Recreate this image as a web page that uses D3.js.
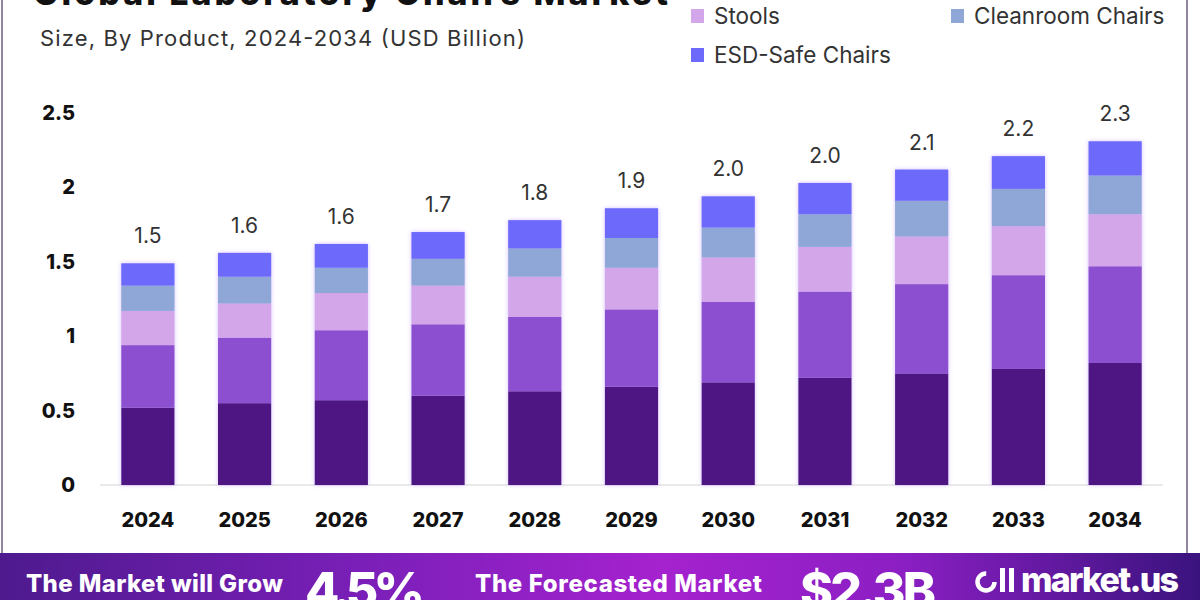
<!DOCTYPE html>
<html>
<head>
<meta charset="utf-8">
<script src="https://cdn.jsdelivr.net/npm/d3@7"></script>
<style>
  body { margin: 0; background: #fff; }
  svg { display: block; font-family: Inter, "Open Sans", sans-serif; }
</style>
</head>
<body>
<div id="chart"></div>
<script>
// Data (USD Billion)
const years = ["2024", "2025", "2026", "2027", "2028", "2029", "2030", "2031", "2032", "2033", "2034"];
const seriesNames = ["Standard Lab Chairs", "Ergonomic Chairs", "Stools", "Cleanroom Chairs", "ESD-Safe Chairs"];
const standardChairs = [0.52, 0.55, 0.57, 0.60, 0.63, 0.66, 0.69, 0.72, 0.75, 0.78, 0.82];
const ergonomicChairs = [0.42, 0.44, 0.47, 0.48, 0.50, 0.52, 0.54, 0.58, 0.60, 0.63, 0.65];
const stools = [0.23, 0.23, 0.25, 0.26, 0.27, 0.28, 0.30, 0.30, 0.32, 0.33, 0.35];
const cleanroomChairs = [0.17, 0.18, 0.17, 0.18, 0.19, 0.20, 0.20, 0.22, 0.24, 0.25, 0.26];
const esdChairs = [0.15, 0.16, 0.16, 0.18, 0.19, 0.20, 0.21, 0.21, 0.21, 0.22, 0.23];
const totalLabels = ["1.5", "1.6", "1.6", "1.7", "1.8", "1.9", "2.0", "2.0", "2.1", "2.2", "2.3"];
const yTicks = [0, 0.5, 1, 1.5, 2, 2.5];

const colors = ["#4e1682", "#8b4fcf", "#d3a5e9", "#8ea7d7", "#6d69fb"];

const W = 1200, H = 600;

const svg = d3.select("#chart")
  .append("svg")
  .attr("width", W)
  .attr("height", H);

const defs = svg.append("defs");

// banner gradient
const grad = defs.append("linearGradient")
  .attr("id", "bannerGrad")
  .attr("x1", "0%").attr("x2", "100%");
grad.append("stop").attr("offset", "0%").attr("stop-color", "#4e1a8e");
grad.append("stop").attr("offset", "30%").attr("stop-color", "#7a1fb8");
grad.append("stop").attr("offset", "55%").attr("stop-color", "#a522cf");
grad.append("stop").attr("offset", "75%").attr("stop-color", "#8c1fc4");
grad.append("stop").attr("offset", "100%").attr("stop-color", "#3a137e");

// soft glow round bars
const glow = defs.append("filter")
  .attr("id", "glow")
  .attr("x", "-20%").attr("y", "-10%")
  .attr("width", "140%").attr("height", "120%");
glow.append("feDropShadow")
  .attr("dx", 0).attr("dy", 0)
  .attr("stdDeviation", 2)
  .attr("flood-color", "#a070ff")
  .attr("flood-opacity", 0.45);

// Title (cropped at the top edge, as in the picture)
svg.append("text")
  .attr("x", 33)
  .attr("y", 5)
  .attr("textLength", 635)
  .style("font-size", "34px")
  .style("font-weight", "800")
  .style("fill", "#111")
  .text("Global Laboratory Chairs Market");

svg.append("text")
  .attr("x", 40)
  .attr("y", 46)
  .attr("textLength", 485)
  .style("font-size", "22px")
  .style("fill", "#333")
  .text("Size, By Product, 2024-2034 (USD Billion)");

// Legend (only the rows inside the picture)
const legendPos = [null, null, { x: 691, y: 16 }, { x: 951, y: 16 }, { x: 691, y: 55 }];
const legend = svg.append("g").attr("class", "legend");
seriesNames.forEach((name, i) => {
  if (!legendPos[i]) return;
  const g = legend.append("g")
    .attr("transform", `translate(${legendPos[i].x},${legendPos[i].y})`);
  g.append("rect")
    .attr("x", 0).attr("y", -7)
    .attr("width", 13).attr("height", 14)
    .attr("fill", colors[i]);
  g.append("text")
    .attr("x", 23)
    .attr("y", 0)
    .attr("dy", "0.35em")
    .style("font-size", "22.5px")
    .style("fill", "#333")
    .text(name);
});

// Scales
const x = d3.scaleBand()
  .domain(years)
  .range([100, 1163])
  .paddingInner(0.45)
  .paddingOuter(0.22);

const y = d3.scaleLinear()
  .domain([0, 2.5])
  .range([485, 113]);

// Stack
const rows = years.map((yr, i) => ({
  year: yr,
  s0: standardChairs[i],
  s1: ergonomicChairs[i],
  s2: stools[i],
  s3: cleanroomChairs[i],
  s4: esdChairs[i]
}));
const stacked = d3.stack().keys(["s0", "s1", "s2", "s3", "s4"])(rows);

// Y axis
const yAxis = svg.append("g")
  .attr("transform", "translate(75,0)")
  .call(d3.axisLeft(y).tickValues(yTicks).tickSize(0).tickPadding(0).tickFormat(d3.format("")));
yAxis.select(".domain").remove();
yAxis.selectAll("text")
  .style("font-family", "Inter, sans-serif")
  .style("font-size", "20px")
  .style("font-weight", "800")
  .style("fill", "#111");

// Baseline
svg.append("line")
  .attr("x1", 100).attr("x2", 1163)
  .attr("y1", y(0)).attr("y2", y(0))
  .style("stroke", "#d6d6d6")
  .style("stroke-width", 1.2);

// Bars
const barsG = svg.append("g").attr("filter", "url(#glow)");
stacked.forEach((layer, li) => {
  barsG.selectAll(".seg" + li)
    .data(layer)
    .enter()
    .append("rect")
    .attr("class", "seg" + li)
    .attr("x", d => x(d.data.year))
    .attr("width", x.bandwidth())
    .attr("y", d => y(d[1]))
    .attr("height", d => y(d[0]) - y(d[1]))
    .attr("fill", colors[li]);
});

// Value labels
const topLayer = stacked[stacked.length - 1];
svg.selectAll(".label")
  .data(topLayer)
  .enter()
  .append("text")
  .attr("class", "label")
  .attr("x", d => x(d.data.year) + x.bandwidth() / 2)
  .attr("y", d => y(d[1]) - 20)
  .attr("text-anchor", "middle")
  .style("font-size", "21px")
  .style("fill", "#333")
  .text((d, i) => totalLabels[i]);

// X axis labels
const xAxis = svg.append("g")
  .attr("transform", `translate(0,${y(0)})`)
  .call(d3.axisBottom(x).tickSize(0).tickPadding(28));
xAxis.select(".domain").remove();
xAxis.selectAll("text")
  .style("font-family", "Inter, sans-serif")
  .style("font-size", "20px")
  .style("font-weight", "800")
  .style("fill", "#111");

// Frame lines
svg.append("line")
  .attr("x1", 2).attr("x2", 2).attr("y1", 0).attr("y2", 553)
  .style("stroke", "#6f5d80").style("stroke-width", 1.5);
svg.append("line")
  .attr("x1", 1187).attr("x2", 1187).attr("y1", 0).attr("y2", 553)
  .style("stroke", "#6f5d80").style("stroke-width", 1.5);

// Bottom banner
svg.append("rect")
  .attr("x", 0).attr("y", 553)
  .attr("width", W).attr("height", 47)
  .attr("fill", "url(#bannerGrad)");

const banner = svg.append("g")
  .style("fill", "#fff")
  .style("font-weight", "800");

banner.append("text")
  .attr("x", 26).attr("y", 592)
  .attr("textLength", 257)
  .style("font-size", "24px")
  .text("The Market will Grow");

banner.append("text")
  .attr("x", 305).attr("y", 608)
  .attr("textLength", 120)
  .style("font-size", "50px")
  .text("4.5%");

banner.append("text")
  .attr("x", 475).attr("y", 592)
  .attr("textLength", 287)
  .style("font-size", "24px")
  .text("The Forecasted Market");

banner.append("text")
  .attr("x", 800).attr("y", 608)
  .attr("textLength", 136)
  .style("font-size", "50px")
  .text("$2.3B");

// market.us logo
const logo = svg.append("g").attr("transform", "translate(975,590)");
logo.append("circle")
  .attr("cx", 11).attr("cy", -8).attr("r", 8.5)
  .attr("fill", "none")
  .attr("stroke", "#fff")
  .attr("stroke-width", 4.5)
  .attr("stroke-dasharray", "40 14");
logo.append("rect").attr("x", 25).attr("y", -22).attr("width", 5).attr("height", 24).attr("fill", "#fff");
logo.append("rect").attr("x", 34).attr("y", -22).attr("width", 5).attr("height", 24).attr("fill", "#fff");
logo.append("text")
  .attr("x", 46).attr("y", 2)
  .attr("textLength", 158)
  .style("font-size", "34px")
  .style("font-weight", "800")
  .style("fill", "#fff")
  .text("market.us");
</script>
</body>
</html>
